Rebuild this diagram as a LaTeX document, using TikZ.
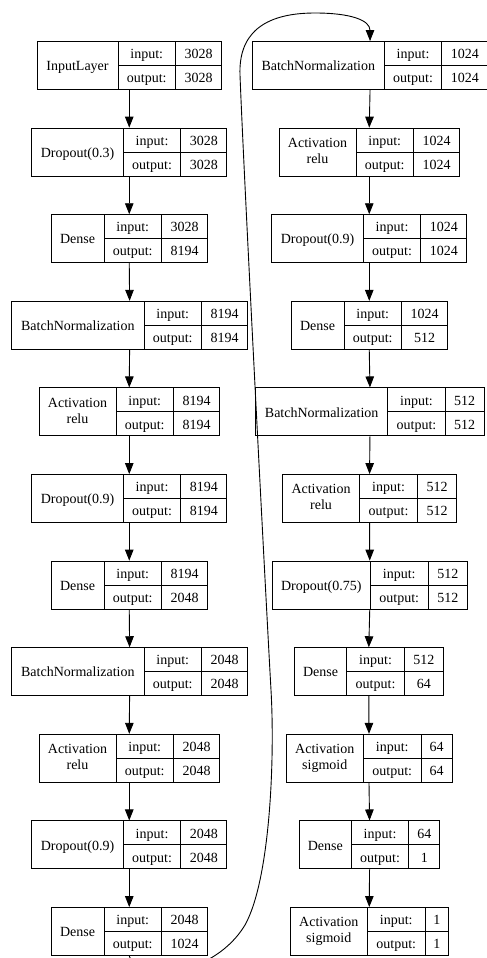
\documentclass[tikz,border=0pt]{standalone}
\usepackage{fontspec}
\setmainfont{Liberation Serif}
\usetikzlibrary{arrows.meta}

% one record of the model plot: name, left, top, label width, value width, label, in, out, label style
\newcommand{\layerrec}[9]{%
  \node[rec_box, minimum width={(#4+57.5+#5)*1pt}] (#1) at ({#2+(#4+57.5+#5)/2},{#3+24}) {};
  \node[rec_cell, #9, minimum width={#4*1pt}] (#1_name) at ({#2+#4/2},{#3+24}) {#6};
  \node[rec_cell, minimum width=57.5pt] (#1_inl)  at ({#2+#4+28.75},{#3+12}) {input:};
  \node[rec_cell, minimum width=57.5pt] (#1_outl) at ({#2+#4+28.75},{#3+36}) {output:};
  \node[rec_cell, minimum width={#5*1pt}] (#1_inv)  at ({#2+#4+57.5+#5/2},{#3+12}) {#7};
  \node[rec_cell, minimum width={#5*1pt}] (#1_outv) at ({#2+#4+57.5+#5/2},{#3+36}) {#8};
}

\begin{document}
\begin{tikzpicture}[x=1pt, y=-1pt]
        \tikzstyle{rec_box}  = [draw = black, line width=0.9pt, minimum height=48pt, inner sep=0pt]
        \tikzstyle{rec_cell} = [draw = black, line width=0.9pt, minimum height=24pt, inner sep=0pt,
                                font=\fontsize{14}{16}\selectfont, text height=11.5pt, text depth=1pt]
        \tikzstyle{rec_one}  = [minimum height=48pt]
        \tikzstyle{rec_two}  = [minimum height=48pt, align=center, text height=22.2pt, text depth=0pt]
        \tikzstyle{flow}     = [-{Triangle[length=11pt, width=8.5pt]}, line width=0.9pt]

        \useasboundingbox (0,0) rectangle (487,958);

        % left column
        \layerrec{l1}{37}{41.5}{81}{46}{InputLayer}{3028}{3028}{rec_one}
        \layerrec{l2}{31.7}{128.1}{91.6}{46}{Dropout(0.3)}{3028}{3028}{rec_one}
        \layerrec{l3}{51}{214.7}{53}{46}{Dense}{3028}{8194}{rec_one}
        \layerrec{l4}{11.7}{301.3}{132.3}{46}{BatchNormalization}{8194}{8194}{rec_one}
        \layerrec{l5}{39}{387.9}{77}{46}{Activation\\relu}{8194}{8194}{rec_two}
        \layerrec{l6}{31.7}{474.5}{91.6}{46}{Dropout(0.9)}{8194}{8194}{rec_one}
        \layerrec{l7}{51}{561.1}{53}{46}{Dense}{8194}{2048}{rec_one}
        \layerrec{l8}{11.7}{647.7}{132.3}{46}{BatchNormalization}{2048}{2048}{rec_one}
        \layerrec{l9}{39}{734.3}{77}{46}{Activation\\relu}{2048}{2048}{rec_two}
        \layerrec{l10}{31.7}{820.9}{91.6}{46}{Dropout(0.9)}{2048}{2048}{rec_one}
        \layerrec{l11}{51}{907.5}{53}{46}{Dense}{2048}{1024}{rec_one}

        % right column
        \layerrec{r1}{252.3}{41.5}{132}{46}{BatchNormalization}{1024}{1024}{rec_one}
        \layerrec{r2}{279}{128.1}{77}{46}{Activation\\relu}{1024}{1024}{rec_two}
        \layerrec{r3}{271.7}{214.7}{91.6}{46}{Dropout(0.9)}{1024}{1024}{rec_one}
        \layerrec{r4}{291}{301.3}{53}{46}{Dense}{1024}{512}{rec_one}
        \layerrec{r5}{255.7}{387.9}{132}{39}{BatchNormalization}{512}{512}{rec_one}
        \layerrec{r6}{282.3}{474.5}{77.5}{39.5}{Activation\\relu}{512}{512}{rec_two}
        \layerrec{r7}{272}{561.1}{98.5}{39.5}{Dropout(0.75)}{512}{512}{rec_one}
        \layerrec{r8}{294.3}{647.7}{52.5}{39}{Dense}{512}{64}{rec_one}
        \layerrec{r9}{286}{734.3}{77.5}{31}{Activation\\sigmoid}{64}{64}{rec_two}
        \layerrec{r10}{299.3}{820.9}{52}{31}{Dense}{64}{1}{rec_one}
        \layerrec{r11}{290}{907.5}{77.5}{23.5}{Activation\\sigmoid}{1}{1}{rec_two}

        \path[flow]
          (l1.south) edge (l2.north)
          (l2.south) edge (l3.north)
          (l3.south) edge (l4.north)
          (l4.south) edge (l5.north)
          (l5.south) edge (l6.north)
          (l6.south) edge (l7.north)
          (l7.south) edge (l8.north)
          (l8.south) edge (l9.north)
          (l9.south) edge (l10.north)
          (l10.south) edge (l11.north)
          (r1.south) edge (r2.north)
          (r2.south) edge (r3.north)
          (r3.south) edge (r4.north)
          (r4.south) edge (r5.north)
          (r5.south) edge (r6.north)
          (r6.south) edge (r7.north)
          (r7.south) edge (r8.north)
          (r8.south) edge (r9.north)
          (r9.south) edge (r10.north)
          (r10.south) edge (r11.north)
        ;

        % wrap from the bottom of the left column to the top of the right one
        \draw[flow] (l11.south)
          .. controls (140,985) and (215,975) .. (245,925)
          .. controls (270,880) and (275,760) .. (271,690)
          .. controls (267,620) and (244,180) .. (240,75)
          .. controls (238.5,35) and (262,13) .. (315,13)
          .. controls (350,13) and (370,20) .. (r1.north);
      \end{tikzpicture}
\end{document}
